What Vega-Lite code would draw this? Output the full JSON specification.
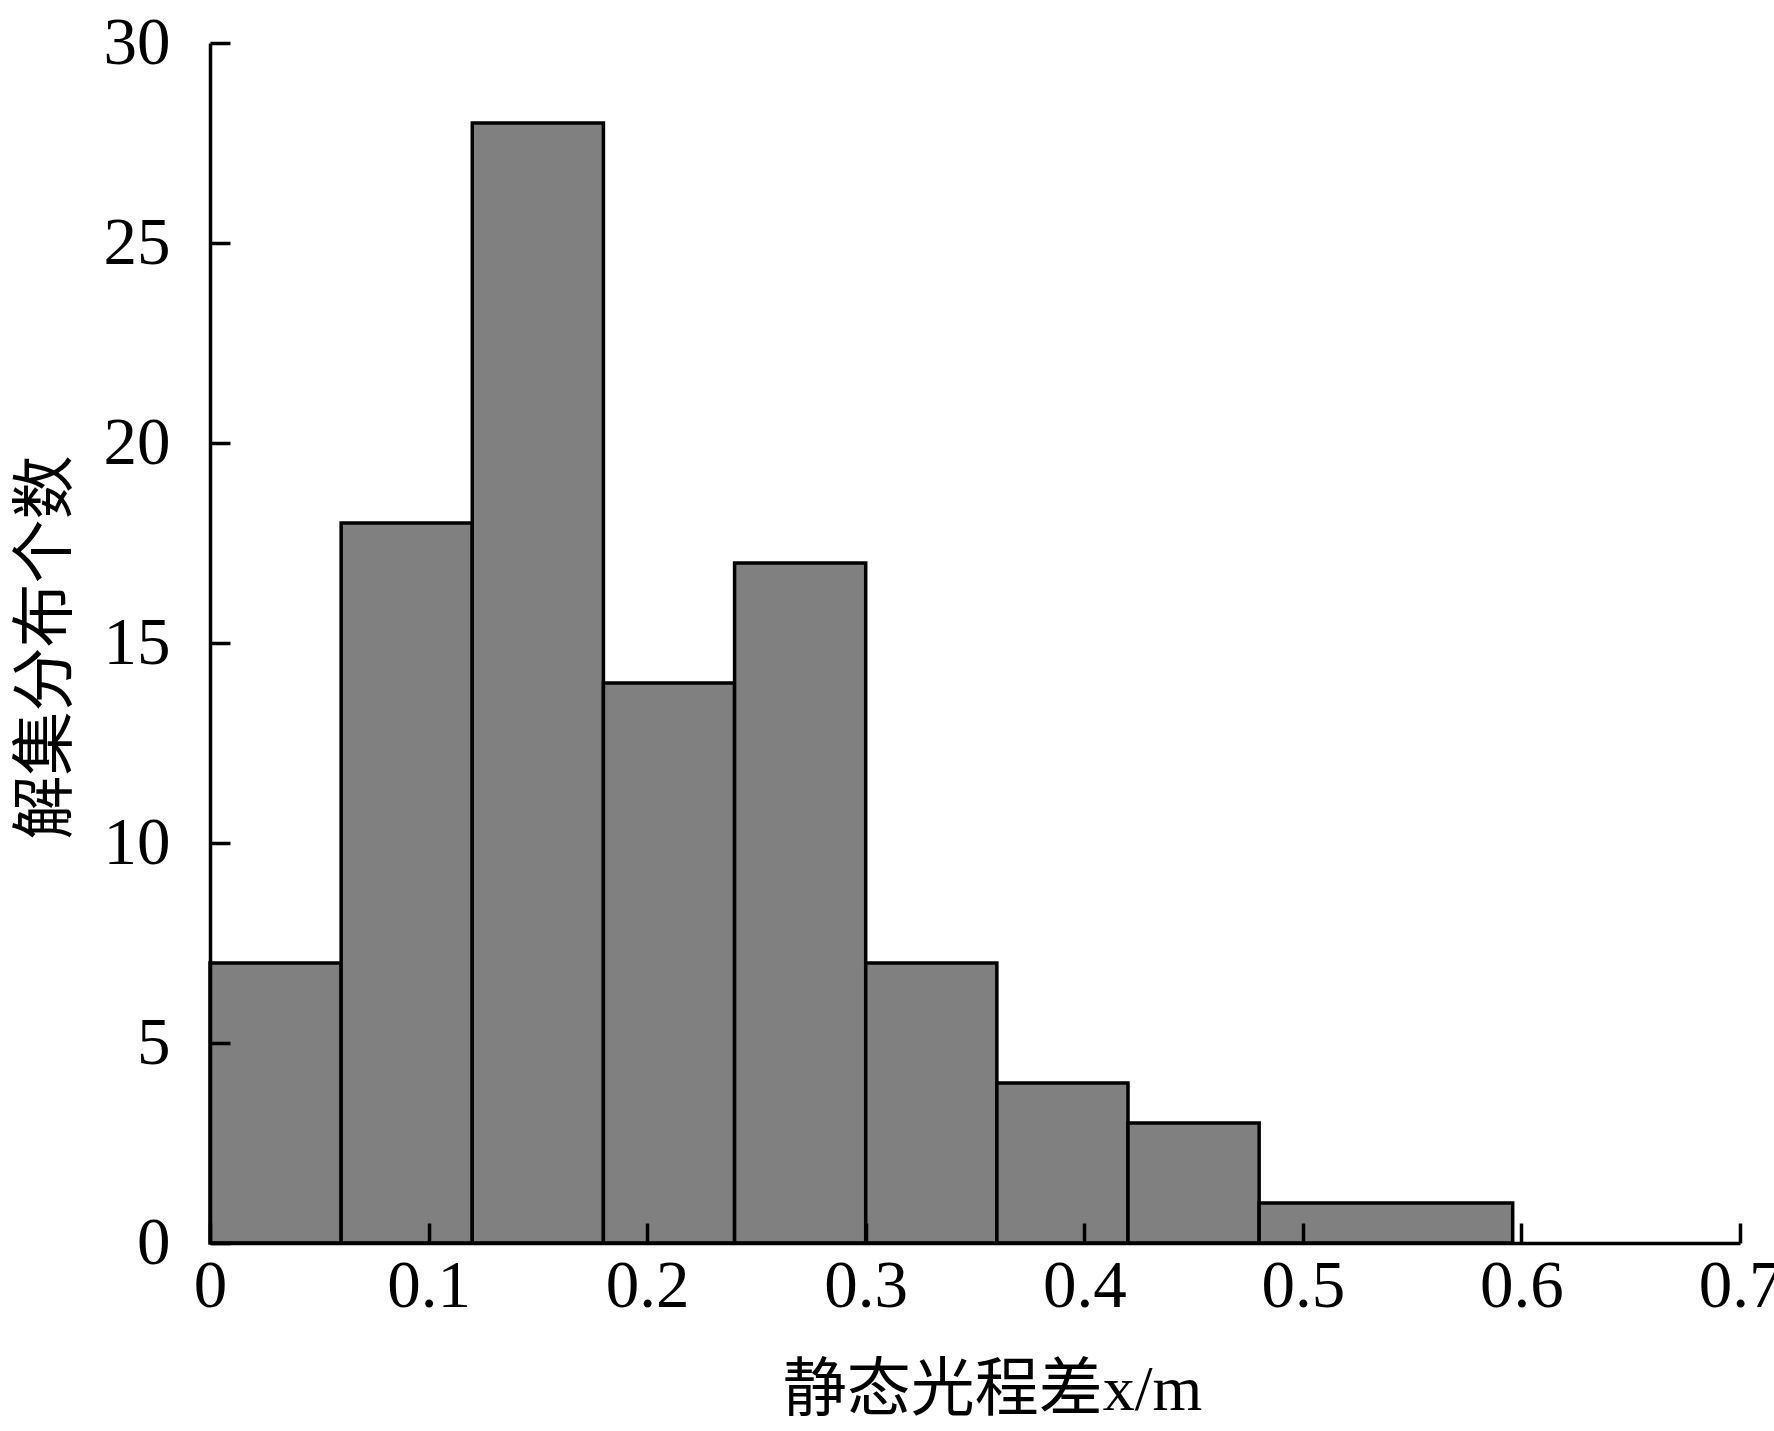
{
  "$schema": "https://vega.github.io/schema/vega-lite/v6.json",
  "width": 1530,
  "height": 1200,
  "autosize": "none",
  "padding": {"left": 210, "top": 43, "right": 34, "bottom": 188},
  "background": "white",
  "config": {
    "view": {"stroke": null},
    "axis": {
      "grid": false,
      "domainColor": "black",
      "domainWidth": 3.5,
      "tickColor": "black",
      "tickWidth": 3.5,
      "tickSize": -20,
      "labelFont": "Liberation Serif",
      "labelFontSize": 67,
      "labelColor": "black",
      "labelFlush": false,
      "labelOverlap": false,
      "titleColor": "black",
      "titleFontWeight": "normal"
    }
  },
  "data": {
    "values": [
      {"x0": 0.0, "x1": 0.06, "count": 7},
      {"x0": 0.06, "x1": 0.12, "count": 18},
      {"x0": 0.12, "x1": 0.18, "count": 28},
      {"x0": 0.18, "x1": 0.24, "count": 14},
      {"x0": 0.24, "x1": 0.30, "count": 17},
      {"x0": 0.30, "x1": 0.36, "count": 7},
      {"x0": 0.36, "x1": 0.42, "count": 4},
      {"x0": 0.42, "x1": 0.48, "count": 3},
      {"x0": 0.48, "x1": 0.596, "count": 1}
    ]
  },
  "mark": {"type": "bar", "fill": "#808080", "stroke": "black", "strokeWidth": 3.5},
  "encoding": {
    "x": {
      "field": "x0",
      "type": "quantitative",
      "scale": {"domain": [0, 0.7], "nice": false},
      "axis": {
        "zindex": 1,
        "values": [0, 0.1, 0.2, 0.3, 0.4, 0.5, 0.6, 0.7],
        "format": "~g",
        "labelPadding": 30,
        "title": "静态光程差x/m",
        "titleFont": "Liberation Serif, Noto Sans CJK SC",
        "titleFontSize": 64,
        "titleBaseline": "alphabetic",
        "titleX": 782,
        "titleY": 166
      }
    },
    "x2": {"field": "x1"},
    "y": {
      "field": "count",
      "type": "quantitative",
      "scale": {"domain": [0, 30], "nice": false},
      "axis": {
        "zindex": 1,
        "values": [0, 5, 10, 15, 20, 25, 30],
        "labelPadding": 60,
        "title": "解集分布个数",
        "titleFont": "Noto Sans CJK SC",
        "titleFontSize": 64,
        "titleAngle": -90,
        "titleBaseline": "middle",
        "titleX": -164,
        "titleY": 604
      }
    },
    "y2": {"datum": 0}
  }
}
